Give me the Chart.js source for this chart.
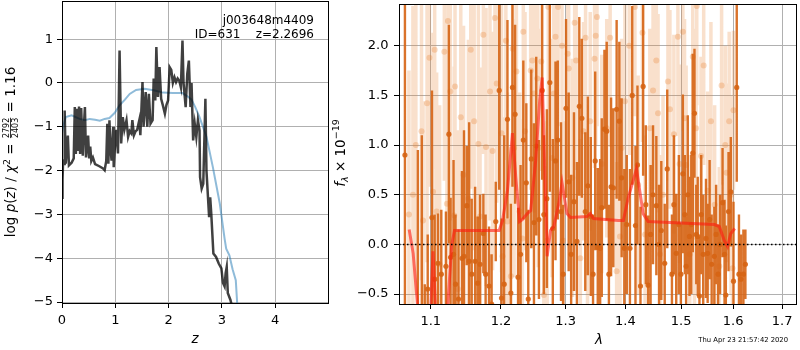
<!DOCTYPE html>
<html>
<head>
<meta charset="utf-8">
<script src="https://cdn.jsdelivr.net/npm/chart.js@4.4.1/dist/chart.umd.min.js"></script>
<style>
  body { margin: 0; background: #fff; }
  #wrap { position: relative; width: 800px; height: 350px; }
  .panel { position: absolute; top: 0; height: 350px; }
</style>
</head>
<body>
<div id="wrap">
  <div class="panel" style="left:0;width:330px"><canvas id="pzChart"></canvas></div>
  <div class="panel" style="left:330px;width:470px"><canvas id="specChart"></canvas></div>
</div>
<script>
// --- left panel: log p(z) and scaled chi2 ---
const zPz = [0.00,0.01,0.02,0.04,0.05,0.07,0.11,0.13,0.18,0.22,
  0.24,0.26,0.28,0.30,0.32,0.34,0.36,0.39,0.41,0.43,
  0.45,0.47,0.49,0.51,0.53,0.55,0.58,0.62,0.70,0.77,
  0.80,0.83,0.85,0.87,0.89,0.91,0.93,0.96,0.97,1.00,
  1.02,1.05,1.08,1.11,1.14,1.17,1.21,1.24,1.27,1.30,
  1.32,1.35,1.38,1.41,1.45,1.47,1.51,1.53,1.57,1.60,
  1.63,1.66,1.70,1.72,1.75,1.77,1.80,1.83,1.86,1.89,
  1.93,1.96,1.99,2.02,2.05,2.08,2.11,2.14,2.17,2.20,
  2.23,2.26,2.28,2.32,2.35,2.38,2.41,2.43,2.46,2.49,
  2.52,2.55,2.58,2.59,2.62,2.65,2.69,2.71,2.76,2.78,
  2.80,2.84,2.89,2.94,2.99,3.02,3.05,3.07,3.09,3.11,
  3.16,3.19];
const logPz = [-2.62,-2.20,-1.80,-1.85,-0.63,-1.84,-1.20,-1.88,-1.82,-1.72,
  -0.55,-1.62,-0.59,-1.55,-0.54,-1.62,-0.57,-1.66,-1.00,-0.55,
  -1.70,-1.45,-1.20,-1.72,-1.45,-1.78,-1.70,-1.85,-1.90,-1.95,
  -1.99,-1.78,-0.93,-1.84,-0.85,-1.50,-1.77,-1.00,-1.92,-1.30,
  -1.07,-1.61,0.74,-1.38,-0.78,-1.07,-0.85,-1.23,-1.10,-1.15,
  -0.85,-1.19,-1.10,-1.07,-0.85,-1.19,0.02,-1.00,-0.21,-1.00,
  -0.25,-0.93,-0.85,0.10,-0.40,0.82,-0.32,0.36,-0.36,-0.50,
  -0.70,-0.50,-0.40,0.36,0.30,0.00,0.13,0.02,0.10,0.05,
  -0.10,0.97,0.00,-0.55,0.21,0.51,-0.55,0.00,-1.31,-0.93,
  -1.23,-0.85,-1.08,-2.15,-2.41,-2.30,-0.36,-2.00,-3.06,-2.61,
  -2.98,-3.89,-3.97,-4.12,-4.23,-4.56,-4.64,-4.34,-4.20,-4.79,
  -4.95,-5.10];
const zChi = [0.00,0.02,0.07,0.18,0.33,0.43,0.52,0.62,0.71,0.80,
  0.89,0.99,1.08,1.18,1.27,1.39,1.55,1.74,1.89,2.08,
  2.26,2.36,2.43,2.50,2.58,2.71,2.83,2.96,3.05,3.08,
  3.14,3.20,3.26,3.29];
const chiScaled = [-1.15,-1.00,-0.78,-0.74,-0.82,-0.85,-0.82,-0.84,-0.86,-0.82,
  -0.80,-0.68,-0.51,-0.38,-0.25,-0.16,-0.13,-0.17,-0.22,-0.23,
  -0.23,-0.31,-0.38,-0.55,-0.78,-1.23,-1.92,-2.75,-3.55,-3.78,
  -3.93,-4.25,-4.50,-5.10];
const zTicks = [0, 1, 2, 3, 4];
const pzTicks = [-5, -4, -3, -2, -1, 0, 1];

// --- right panel: spectrum (wavelength in micron, flux x 1e-19) ---
const darkLam = [1.0654,1.0826,1.0879,1.0919,1.0959,1.1017,1.1054,1.1099,1.1145,1.1209,
  1.1250,1.1274,1.1315,1.1343,1.1385,1.1434,1.1463,1.1502,1.1536,1.1573,
  1.1622,1.1659,1.1693,1.1741,1.1774,1.1824,1.1862,1.1923,1.1974,1.2008,
  1.2048,1.2097,1.2148,1.2172,1.2212,1.2257,1.2295,1.2337,1.2383,1.2413,
  1.2459,1.2501,1.2536,1.2578,1.2629,1.2655,1.2702,1.2749,1.2796,1.2839,
  1.2875,1.2927,1.2962,1.3007,1.3050,1.3090,1.3136,1.3184,1.3223,1.3265,
  1.3321,1.3364,1.3413,1.3450,1.3486,1.3529,1.3569,1.3596,1.3641,1.3680,
  1.3717,1.3754,1.3793,1.3849,1.3895,1.3935,1.3981,1.4024,1.4079,1.4119,
  1.4176,1.4211,1.4264,1.4311,1.4359,1.4400,1.4444,1.4488,1.4547,1.4596,
  1.4637,1.4699,1.4745,1.4831,1.4867,1.4910,1.4959,1.4996,1.5033,1.5070,
  1.5094,1.5125,1.5157,1.5191,1.5219,1.5251,1.5285,1.5313,1.5345,1.5379,
  1.5417,1.5470,1.5502,1.5540,1.5579,1.5631,1.5665,1.5704,1.5742,1.5791,
  1.5830,1.5855,1.5908,1.5953,1.6006,1.6071,1.6115,1.6154,1.6204,1.6244];
const darkFlux = [0.90,-0.75,-0.80,-0.75,-0.45,0.27,-0.35,-0.19,-0.30,-0.22,
  1.11,-0.13,-0.10,-0.40,-0.55,-0.14,-0.12,0.39,-0.17,-0.30,
  -0.17,-0.39,-0.20,0.11,-0.30,-0.42,-0.60,0.23,1.55,-0.54,
  -0.40,1.26,-0.49,1.58,1.31,-0.33,-0.10,1.05,0.62,-0.55,
  0.86,0.22,0.99,0.25,1.55,0.30,0.46,1.63,0.16,0.84,
  1.05,0.33,-0.30,1.37,0.63,-0.10,0.43,0.03,1.39,1.27,
  0.33,0.59,0.28,-0.30,0.84,-0.03,-0.04,0.37,1.16,1.14,
  -0.30,0.58,0.57,1.36,1.24,0.67,-0.04,0.20,-0.04,1.50,
  0.19,0.80,-0.42,1.59,0.40,-0.41,0.10,0.50,0.39,0.00,
  0.14,-0.19,0.76,-0.30,0.40,-0.09,0.20,-0.30,0.71,0.30,
  -0.22,0.50,0.08,0.20,0.92,1.32,0.10,0.08,-0.52,0.30,
  -0.10,0.06,-0.09,0.25,-0.20,-0.12,0.10,-0.30,0.00,0.42,
  -0.10,-0.51,0.33,0.53,-0.37,1.58,-0.30,-0.35,-0.30,-0.20];
const darkErr = [1.80,1.70,1.90,0.35,0.55,1.28,0.65,0.50,0.65,0.55,
  1.10,0.60,0.95,0.70,0.70,0.88,1.27,0.60,1.40,0.76,
  0.75,0.67,0.70,0.40,0.60,0.60,0.50,0.40,1.00,0.80,
  1.50,1.00,0.90,1.00,0.90,0.70,0.90,0.80,0.80,0.90,
  0.90,1.00,0.90,0.80,0.90,0.80,0.90,1.10,0.90,1.00,
  0.80,0.90,0.70,0.90,0.90,0.80,0.90,0.80,0.90,0.80,
  0.80,0.90,0.80,0.60,0.90,0.80,0.90,0.90,0.80,0.90,
  0.70,0.90,0.80,0.90,0.80,0.80,0.80,0.70,0.80,0.90,
  0.80,0.80,0.80,0.90,0.80,0.70,0.70,0.70,0.70,0.60,
  0.70,0.60,0.80,0.60,0.70,0.60,0.70,0.50,0.80,0.60,
  0.50,0.80,0.60,0.70,1.00,0.65,0.50,0.60,0.60,0.60,
  0.60,0.60,0.50,0.60,0.50,0.50,0.50,0.50,0.50,0.55,
  0.55,0.70,0.60,0.55,0.80,0.95,0.60,0.45,0.45,0.35];

const lightLam = [1.0707,1.0760,1.0799,1.0875,1.0896,1.0950,1.0982,1.1031,1.1054,1.1081,
  1.1122,1.1187,1.1223,1.1237,1.1270,1.1325,1.1336,1.1375,1.1417,1.1456,
  1.1526,1.1559,1.1608,1.1669,1.1693,1.1741,1.1780,1.1838,1.1876,1.1911,
  1.1937,1.2008,1.2023,1.2073,1.2097,1.2148,1.2175,1.2197,1.2232,1.2280,
  1.2322,1.2337,1.2363,1.2450,1.2475,1.2501,1.2552,1.2567,1.2614,1.2655,
  1.2707,1.2725,1.2785,1.2812,1.2839,1.2880,1.2943,1.2959,1.3034,1.3050,
  1.3110,1.3147,1.3171,1.3240,1.3293,1.3326,1.3358,1.3403,1.3475,1.3495,
  1.3516,1.3596,1.3680,1.3738,1.3849,1.3907,1.3935,1.3992,1.4067,1.4166,
  1.4223,1.4299,1.4346,1.4430,1.4488,1.4547,1.4578,1.4614,1.4668,1.4758,
  1.4794,1.4867,1.4941,1.4972,1.5033,1.5064,1.5094,1.5162,1.5219,1.5251,
  1.5281,1.5294,1.5375,1.5426,1.5502,1.5565,1.5637,1.5727,1.5772,1.5844,
  1.5869,1.5921,1.5957,1.5986,1.6006];
const lightFlux = [0.30,0.50,1.00,1.14,0.24,1.42,1.88,0.53,1.96,0.33,
  -0.20,1.94,0.41,2.25,1.54,0.29,1.59,-0.45,1.28,0.70,
  0.46,1.96,1.24,1.01,0.28,2.11,0.98,1.54,0.94,2.28,
  1.62,1.12,-0.12,2.05,0.23,-0.32,1.97,0.97,1.74,0.33,
  0.06,2.14,1.14,1.75,1.85,1.52,1.67,0.97,1.84,-0.51,
  0.04,2.39,0.87,1.52,2.09,2.39,2.00,0.04,1.92,1.77,
  0.67,2.23,1.85,-0.14,1.14,2.08,0.30,1.24,1.87,2.10,
  2.29,0.81,1.17,2.08,-0.27,0.08,0.97,1.44,2.00,2.39,
  0.60,2.13,0.10,1.17,1.55,1.85,1.32,-0.10,0.50,1.64,
  1.36,1.11,2.09,0.81,2.14,1.27,0.80,-0.10,1.89,0.08,
  1.17,2.40,0.89,1.80,0.54,1.24,0.40,-0.22,1.60,1.00,
  0.72,1.24,0.50,-0.24,1.35];
const lightErr = [1.45,1.90,1.50,1.50,1.20,1.60,1.30,1.60,1.20,1.40,
  1.60,1.30,1.50,1.20,1.30,1.50,1.20,1.60,1.40,1.50,
  1.60,1.40,1.30,1.40,1.50,1.20,1.40,1.30,1.20,1.30,
  1.20,1.40,1.40,1.20,1.30,1.30,1.20,1.30,1.20,1.20,
  1.20,1.20,1.20,1.20,1.10,1.20,1.20,1.20,1.10,1.30,
  1.20,1.20,1.20,1.20,1.10,1.20,1.20,1.20,1.10,1.10,
  1.20,1.10,1.10,1.20,1.10,1.10,1.10,1.10,1.10,1.10,
  1.10,1.10,1.10,1.10,1.10,1.10,1.10,1.00,1.10,1.10,
  1.10,1.10,1.00,1.00,1.00,1.00,1.00,1.00,1.00,1.00,
  1.00,1.00,1.00,1.00,1.00,1.00,1.00,1.00,1.00,1.00,
  1.00,1.00,1.00,1.00,1.00,1.00,1.00,1.00,1.00,1.00,
  0.90,0.90,1.00,0.90,0.80];

const modelLam = [1.0710,1.0763,1.0808,1.0852,1.0986,1.1031,1.1081,1.1209,1.1290,1.1329,
  1.1974,1.2023,1.2097,1.2172,1.2223,1.2280,1.2322,1.2398,1.2450,1.2527,
  1.2590,1.2629,1.2707,1.2760,1.2812,1.2891,1.2943,1.3023,1.3080,1.3348,
  1.3404,1.3458,1.3878,1.3964,1.4050,1.4194,1.4311,1.4400,1.5630,1.5727,
  1.5824,1.5888,1.5953,1.6031];
const modelFlux = [0.15,-0.09,-0.49,-0.90,-0.90,-0.07,-0.90,-0.90,0.00,0.14,
  0.14,0.24,0.54,1.12,0.67,0.23,0.25,0.31,0.34,0.84,
  1.45,1.68,-0.12,0.14,0.18,0.41,0.62,0.31,0.27,0.28,
  0.31,0.26,0.24,0.24,0.47,0.76,0.31,0.23,0.20,0.18,
  0.04,-0.02,0.11,0.16];
const lamRange = [1.0576, 1.7295];
const zeroFlux = [0, 0];
const lamTicks = [1.1, 1.2, 1.3, 1.4, 1.5, 1.6, 1.7];
const fluxTicks = [-0.5, 0, 0.5, 1.0, 1.5, 2.0];

const FONT = 'DejaVu Sans';
Chart.defaults.font.family = FONT;
Chart.defaults.font.size = 13;
Chart.defaults.color = '#000';
Chart.defaults.animation = false;
Chart.defaults.elements.point.radius = 0;
Chart.defaults.elements.line.tension = 0;

const DARK = 'rgba(214,100,20,0.9)';
const PALE = 'rgba(232,130,50,0.25)';

function pts(xs, ys) { return xs.map((x, i) => ({ x: x, y: ys[i] })); }
// each error bar is a vertical segment, broken from the next one by a null
function errSegs(xs, ys, es) {
  const out = [];
  xs.forEach((x, i) => {
    out.push({ x: x, y: ys[i] - es[i] }, { x: x, y: ys[i] + es[i] }, { x: x, y: null });
  });
  return out;
}
const fixTicks = vals => scale => { scale.ticks = vals.map(v => ({ value: v })); };
const minus = s => s.replace('-', '\u2212');
// fixed axis size, and no extra room asked for the end labels
const fitX = h => s => { s.height = h; s.paddingLeft = 0; s.paddingRight = 0; };
const fitY = w => s => { s.width = w; s.paddingTop = 0; s.paddingBottom = 0; };

// text made of runs (normal / italic / sub / sup / fraction), optionally rotated
function richText(ctx, parts, x, y, vertical) {
  ctx.save();
  ctx.translate(x, y);
  if (vertical) ctx.rotate(-Math.PI / 2);
  ctx.fillStyle = '#000';
  ctx.textBaseline = 'alphabetic';
  const widths = parts.map(p => {
    ctx.font = p.font;
    if (p.num) return Math.max(ctx.measureText(p.num).width, ctx.measureText(p.den).width) + 2;
    return ctx.measureText(p.text).width;
  });
  let cx = -widths.reduce((a, b) => a + b, 0) / 2;
  parts.forEach((p, i) => {
    ctx.font = p.font;
    if (p.num) {
      ctx.textAlign = 'center';
      ctx.fillText(p.num, cx + widths[i] / 2, -5.6);
      ctx.fillText(p.den, cx + widths[i] / 2, 2.6);
      ctx.fillRect(cx + 1, -4.9, widths[i] - 2, 0.8);
    } else {
      ctx.textAlign = 'left';
      ctx.fillText(p.text, cx, p.dy || 0);
    }
    cx += widths[i];
  });
  ctx.restore();
}

const N = `13.5px ${FONT}`, I = `italic 13.5px ${FONT}`;
const pzTitle = [
  { text: 'log ', font: N }, { text: 'p', font: I }, { text: '(', font: N },
  { text: 'z', font: I }, { text: ')', font: N }, { text: ' / ', font: N },
  { text: '\u03c7', font: I }, { text: '2', font: `9.5px ${FONT}`, dy: -5.5 },
  { text: ' = ', font: N }, { num: '2792', den: '2403', font: `8px ${FONT}` },
  { text: ' = 1.16', font: N }
];
const fluxTitle = [
  { text: 'f', font: I }, { text: '\u03bb', font: `italic 9.5px ${FONT}`, dy: 3 },
  { text: ' \u00d7 10', font: N }, { text: '\u221219', font: `9.5px ${FONT}`, dy: -6 }
];

const frame = {
  id: 'frame',
  afterDraw(chart) {
    const { ctx, chartArea: a } = chart;
    ctx.save();
    ctx.strokeStyle = '#000';
    ctx.lineWidth = 1;
    ctx.strokeRect(a.left + 0.5, a.top + 0.5, a.right - a.left, a.bottom - a.top);
    ctx.restore();
  }
};

const pzText = {
  id: 'pzText',
  afterDraw(chart) {
    const ctx = chart.ctx;
    ctx.save();
    ctx.fillStyle = '#000';
    ctx.font = `12px ${FONT}`;
    ctx.textAlign = 'right';
    ctx.fillText('j003648m4409', 314, 24);
    ctx.fillText('ID=631    z=2.2696', 314, 38);
    ctx.font = `italic 13.5px ${FONT}`;
    ctx.textAlign = 'center';
    ctx.fillText('z', 195, 343);
    ctx.restore();
    richText(ctx, pzTitle, 15, 152, true);
  }
};

const specText = {
  id: 'specText',
  afterDraw(chart) {
    const ctx = chart.ctx;
    ctx.save();
    ctx.fillStyle = '#000';
    ctx.font = `italic 13.5px ${FONT}`;
    ctx.textAlign = 'center';
    ctx.fillText('\u03bb', 269, 344);
    ctx.font = `6.8px ${FONT}`;
    ctx.textAlign = 'right';
    ctx.fillText('Thu Apr 23 21:57:42 2020', 458, 342);
    ctx.restore();
    richText(ctx, fluxTitle, 15, 153, true);
  }
};

const gridOpts = { color: '#b0b0b0', lineWidth: 1, tickColor: '#000', tickLength: 5, tickWidth: 1 };

new Chart(document.getElementById('pzChart'), {
  type: 'line',
  data: {
    datasets: [
      { data: pts(zPz, logPz), borderColor: 'rgba(0,0,0,0.75)', borderWidth: 2.5, order: 0, clip: 0 },
      { data: pts(zChi, chiScaled), borderColor: 'rgba(31,119,180,0.5)', borderWidth: 2, order: 1, clip: 0 }
    ]
  },
  options: {
    responsive: true,
    maintainAspectRatio: false,
    layout: { padding: { top: 1, right: 2, left: 0, bottom: 0 } },
    plugins: { legend: { display: false }, tooltip: { enabled: false } },
    scales: {
      x: {
        type: 'linear', min: 0, max: 4.99,
        afterBuildTicks: fixTicks(zTicks),
        afterFit: fitX(47),
        grid: gridOpts, border: { display: false },
        ticks: { padding: 5, maxRotation: 0, callback: v => minus(String(v)) }
      },
      y: {
        type: 'linear', min: -5.02, max: 1.87,
        afterBuildTicks: fixTicks(pzTicks),
        afterFit: fitY(62),
        grid: gridOpts, border: { display: false },
        ticks: { padding: 4, callback: v => minus(String(v)) }
      }
    }
  },
  plugins: [frame, pzText]
});

new Chart(document.getElementById('specChart'), {
  type: 'line',
  data: {
    datasets: [
      { data: pts(lamRange, zeroFlux), borderColor: '#000', borderWidth: 1.5, borderDash: [1.5, 2.5], order: 0, clip: 0 },
      { data: pts(modelLam, modelFlux), borderColor: 'rgba(255,25,15,0.6)', borderWidth: 3, order: 1, clip: 0 },
      { data: pts(darkLam, darkFlux), showLine: false, pointRadius: 2.6, pointBorderWidth: 0, pointBackgroundColor: DARK, order: 2, clip: 0 },
      { data: errSegs(darkLam, darkFlux, darkErr), borderColor: DARK, borderWidth: 2.4, spanGaps: false, order: 3, clip: 0 },
      { data: pts(lightLam, lightFlux), showLine: false, pointRadius: 3, pointBorderWidth: 0, pointBackgroundColor: 'rgba(232,130,50,0.3)', order: 4, clip: 0 },
      { data: errSegs(lightLam, lightFlux, lightErr), borderColor: PALE, borderWidth: 3.5, spanGaps: false, order: 5, clip: 0 }
    ]
  },
  options: {
    responsive: true,
    maintainAspectRatio: false,
    layout: { padding: { top: 1, right: 1, left: 0, bottom: 0 } },
    plugins: { legend: { display: false }, tooltip: { enabled: false } },
    scales: {
      x: {
        type: 'logarithmic', min: lamRange[0], max: lamRange[1], z: 1,
        afterBuildTicks: fixTicks(lamTicks),
        afterFit: fitX(46),
        grid: gridOpts, border: { display: false },
        ticks: { padding: 5, maxRotation: 0, autoSkip: false, callback: v => Number(v).toFixed(1) }
      },
      y: {
        type: 'linear', min: -0.6, max: 2.42, z: 1,
        afterBuildTicks: fixTicks(fluxTicks),
        afterFit: fitY(69),
        grid: gridOpts, border: { display: false },
        ticks: { padding: 5.5, callback: v => minus(Number(v).toFixed(1)) }
      }
    }
  },
  plugins: [frame, specText]
});
</script>
</body>
</html>
